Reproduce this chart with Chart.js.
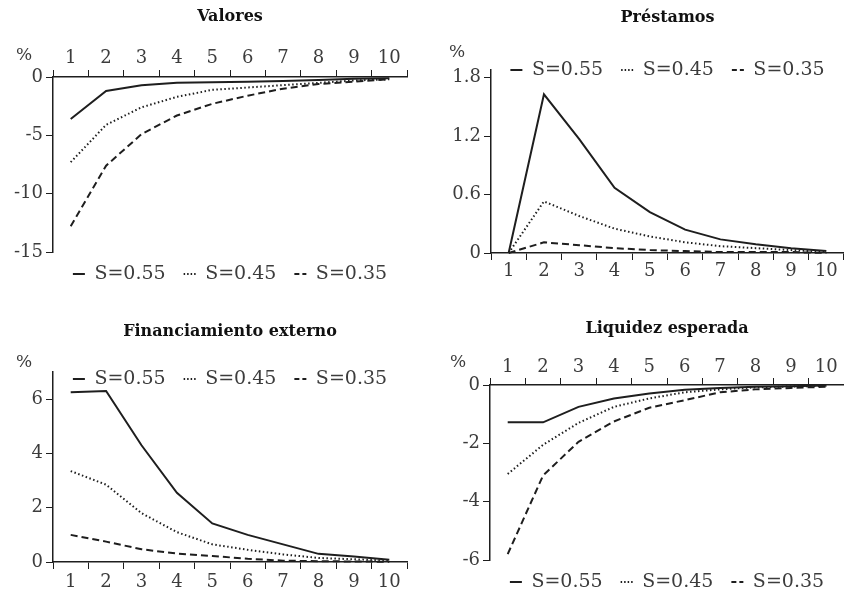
<!DOCTYPE html>
<html>
<head>
<meta charset="utf-8">
<script src="https://cdn.jsdelivr.net/npm/chart.js@4"></script>
<style>
  body { margin: 0; background: #fff; }
  #wrap { position: relative; width: 844px; height: 595px; }
  canvas { position: absolute; }
</style>
</head>
<body>
<div id="wrap">
  <canvas id="valores" width="422" height="297" style="left:0;top:0"></canvas>
  <canvas id="prestamos" width="422" height="297" style="left:422px;top:0"></canvas>
  <canvas id="financiamiento" width="422" height="298" style="left:0;top:297px"></canvas>
  <canvas id="liquidez" width="422" height="298" style="left:422px;top:297px"></canvas>
</div>
<script>
//---------------------------
// DATA
//---------------------------
const periods = [1, 2, 3, 4, 5, 6, 7, 8, 9, 10];
const seriesNames = ['S=0.55', 'S=0.45', 'S=0.35'];

const valores055 = [-3.6, -1.2, -0.7, -0.5, -0.45, -0.4, -0.35, -0.25, -0.15, -0.1];
const valores045 = [-7.3, -4.1, -2.6, -1.7, -1.1, -0.9, -0.7, -0.5, -0.3, -0.2];
const valores035 = [-12.8, -7.6, -4.9, -3.3, -2.3, -1.6, -1.0, -0.6, -0.4, -0.2];

const prestamos055 = [0, 1.63, 1.17, 0.67, 0.42, 0.24, 0.14, 0.09, 0.05, 0.02];
const prestamos045 = [0, 0.53, 0.38, 0.25, 0.17, 0.11, 0.07, 0.05, 0.03, 0.01];
const prestamos035 = [0, 0.11, 0.08, 0.05, 0.03, 0.02, 0.01, 0.01, 0.01, 0];

const financ055 = [6.25, 6.3, 4.3, 2.55, 1.42, 1.0, 0.65, 0.3, 0.2, 0.08];
const financ045 = [3.35, 2.85, 1.8, 1.1, 0.65, 0.45, 0.28, 0.15, 0.1, 0.05];
const financ035 = [1.0, 0.75, 0.47, 0.31, 0.22, 0.12, 0.05, 0.03, 0.02, 0.01];

const liquidez055 = [-1.28, -1.28, -0.75, -0.46, -0.29, -0.16, -0.1, -0.06, -0.04, -0.02];
const liquidez045 = [-3.05, -2.05, -1.3, -0.75, -0.46, -0.25, -0.15, -0.08, -0.05, -0.03];
const liquidez035 = [-5.8, -3.1, -1.95, -1.25, -0.78, -0.52, -0.25, -0.15, -0.1, -0.06];

//---------------------------
// STYLE
//---------------------------
const SERIF = "'DejaVu Serif', 'Liberation Serif', serif";
const INK = '#1e1e1e';
const TEXT = '#3c3c3c';
const dashes = [[], [1.5, 2.5], [7, 4]];
const markerDashes = [[], [1.5, 2], [5, 3]];
const LEGEND_SIZE = 19;
const LEGEND_PAD = 18;

// move title and legend to where the original has them
const placeBlocks = {
  id: 'placeBlocks',
  afterLayout(chart, args, opts) {
    const a = chart.chartArea;
    const tb = chart.titleBlock;
    tb.left = a.left;
    tb.right = a.right;
    const lg = chart.legend;
    lg.left = a.left;
    lg.right = a.right;
    lg.width = a.right - a.left;
    lg.top = opts.cy - LEGEND_PAD - LEGEND_SIZE / 2;
    lg.height = LEGEND_PAD * 2 + LEGEND_SIZE;
    lg.bottom = lg.top + lg.height;
  }
};

// the little "%" unit above the y axis
const percentSign = {
  id: 'percentSign',
  afterDraw(chart, args, opts) {
    const ctx = chart.ctx;
    ctx.save();
    ctx.font = '17px ' + SERIF;
    ctx.fillStyle = TEXT;
    ctx.textAlign = 'center';
    ctx.textBaseline = 'middle';
    ctx.fillText('%', opts.x, opts.y);
    ctx.restore();
  }
};

function legendItems(chart) {
  const items = Chart.defaults.plugins.legend.labels.generateLabels(chart);
  items.forEach(it => {
    it.lineDash = markerDashes[it.datasetIndex];
    it.fillStyle = 'rgba(0,0,0,0)';
  });
  return items;
}

function drawPanel(id, title, series, yr, box) {
  const canvas = document.getElementById(id);
  const W = canvas.width, H = canvas.height;
  const titleTop = box.titleY - 9.6;
  const xTop = box.xAxis === 'top';

  new Chart(canvas, {
    type: 'line',
    data: {
      labels: periods,
      datasets: series.map((v, i) => ({
        label: seriesNames[i],
        data: v,
        borderColor: INK,
        backgroundColor: INK,
        borderWidth: 2,
        borderDash: dashes[i],
        pointRadius: 0,
        tension: 0,
        fill: false,
        clip: false
      }))
    },
    options: {
      responsive: false,
      animation: false,
      events: [],
      layout: {
        padding: { left: 0, right: W - box.right, top: 0, bottom: xTop ? H - box.bottom - 1 : 0 }
      },
      scales: {
        x: {
          position: box.xAxis,
          offset: true,
          grid: { offset: true, drawOnChartArea: false, tickLength: 7, color: INK, lineWidth: 1 },
          border: { color: INK, width: 1.5 },
          ticks: { font: { family: SERIF, size: 18 }, color: TEXT, padding: box.xPad, maxRotation: 0, autoSkip: false },
          afterFit: s => { s.height = xTop ? box.top - (titleTop + 19.2) : H - box.bottom - 1; }
        },
        y: {
          min: yr.min,
          max: yr.max,
          grid: { drawOnChartArea: false, tickLength: 7, color: INK, lineWidth: 1 },
          border: { color: INK, width: 1.5 },
          ticks: { stepSize: yr.step, includeBounds: false, font: { family: SERIF, size: 18 }, color: TEXT, padding: 3 },
          afterFit: s => { s.width = box.left; }
        }
      },
      plugins: {
        title: {
          display: true,
          text: title,
          color: '#111',
          font: { family: SERIF, size: 16, weight: 'bold', lineHeight: 1.2 },
          padding: { top: titleTop, bottom: xTop ? 0 : box.top - titleTop - 19.2 }
        },
        legend: {
          position: 'bottom',
          maxHeight: 1,
          labels: {
            usePointStyle: true,
            pointStyle: 'line',
            pointStyleWidth: 12,
            padding: LEGEND_PAD,
            color: TEXT,
            font: { family: SERIF, size: LEGEND_SIZE },
            generateLabels: legendItems
          }
        },
        tooltip: { enabled: false },
        placeBlocks: { cy: box.legendY },
        percentSign: { x: box.pctX, y: box.pctY }
      }
    },
    plugins: [placeBlocks, percentSign]
  });
}

drawPanel('valores', 'Valores', [valores055, valores045, valores035],
  { min: -15, max: 0, step: 5 },
  { left: 53, right: 407, top: 77, bottom: 252, xAxis: 'top', xPad: 1, titleY: 17, legendY: 274, pctX: 24, pctY: 56 });

drawPanel('prestamos', 'Préstamos', [prestamos055, prestamos045, prestamos035],
  { min: 0, max: 1.88, step: 0.6 },
  { left: 69, right: 422, top: 70, bottom: 253, xAxis: 'bottom', xPad: 1, titleY: 18, legendY: 70, pctX: 35, pctY: 53 });

drawPanel('financiamiento', 'Financiamiento externo', [financ055, financ045, financ035],
  { min: 0, max: 7, step: 2 },
  { left: 53, right: 407, top: 75, bottom: 265, xAxis: 'bottom', xPad: 3, titleY: 35, legendY: 82, pctX: 24, pctY: 66 });

drawPanel('liquidez', 'Liquidez esperada', [liquidez055, liquidez045, liquidez035],
  { min: -6, max: 0, step: 2 },
  { left: 68, right: 422, top: 88, bottom: 263, xAxis: 'top', xPad: 0, titleY: 32, legendY: 285, pctX: 36, pctY: 66 });
</script>
</body>
</html>
